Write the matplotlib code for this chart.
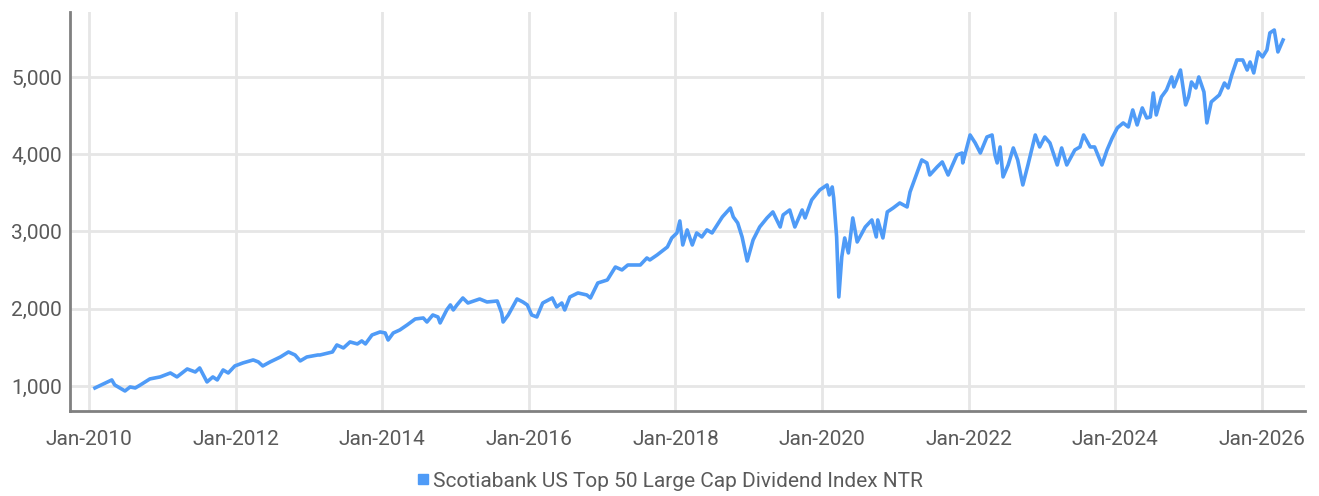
import matplotlib
matplotlib.use('Agg')
import matplotlib.pyplot as plt
import matplotlib.dates as mdates
import matplotlib.ticker as mticker
from matplotlib.lines import Line2D
import pandas as pd

# index level (decimal year, value)
years = [
    2010.08, 2010.31, 2010.35, 2010.49, 2010.56, 2010.63, 2010.70, 2010.83, 2010.97,
    2011.11, 2011.20, 2011.34, 2011.45, 2011.51, 2011.61, 2011.69, 2011.75, 2011.83, 2011.90, 2011.99,
    2012.10, 2012.24, 2012.31, 2012.37, 2012.47, 2012.61, 2012.72, 2012.81, 2012.88, 2012.97,
    2013.12, 2013.15, 2013.32, 2013.38, 2013.47, 2013.56, 2013.66, 2013.72, 2013.77, 2013.86, 2013.97,
    2014.04, 2014.08, 2014.15, 2014.24, 2014.34, 2014.45, 2014.56, 2014.61, 2014.69, 2014.76, 2014.79,
    2014.88, 2014.93, 2014.97,
    2015.02, 2015.10, 2015.17, 2015.33, 2015.43, 2015.57, 2015.63, 2015.65, 2015.72, 2015.84, 2015.92, 2015.98,
    2016.04, 2016.11, 2016.19, 2016.32, 2016.38, 2016.45, 2016.49, 2016.56, 2016.67, 2016.79, 2016.84, 2016.94,
    2017.07, 2017.18, 2017.27, 2017.35, 2017.45, 2017.52, 2017.61, 2017.65, 2017.75, 2017.89, 2017.95,
    2018.02, 2018.06, 2018.10, 2018.16, 2018.23, 2018.29, 2018.36, 2018.43, 2018.50, 2018.57, 2018.64,
    2018.75, 2018.79, 2018.85, 2018.91, 2018.98,
    2019.06, 2019.15, 2019.25, 2019.33, 2019.43, 2019.47, 2019.56, 2019.63, 2019.73, 2019.77, 2019.86, 2019.97,
    2020.07, 2020.10, 2020.14, 2020.16, 2020.20, 2020.23, 2020.27, 2020.31, 2020.36, 2020.42, 2020.48,
    2020.59, 2020.68, 2020.74, 2020.76, 2020.83, 2020.89, 2020.97,
    2021.06, 2021.16, 2021.20, 2021.27, 2021.36, 2021.43, 2021.47, 2021.57, 2021.64, 2021.72, 2021.84,
    2021.91, 2021.92,
    2022.02, 2022.09, 2022.16, 2022.25, 2022.32, 2022.36, 2022.39, 2022.43, 2022.47, 2022.54, 2022.61,
    2022.67, 2022.74, 2022.81, 2022.91, 2022.97,
    2023.04, 2023.11, 2023.21, 2023.27, 2023.34, 2023.45, 2023.52, 2023.57, 2023.66, 2023.72, 2023.82,
    2023.89, 2023.96,
    2024.03, 2024.11, 2024.18, 2024.24, 2024.30, 2024.37, 2024.43, 2024.48, 2024.52, 2024.56, 2024.63,
    2024.70, 2024.77, 2024.80, 2024.89, 2024.96,
    2025.00, 2025.04, 2025.10, 2025.14, 2025.21, 2025.25, 2025.31, 2025.42, 2025.49, 2025.54, 2025.59,
    2025.66, 2025.74, 2025.80, 2025.84, 2025.89, 2025.95,
    2026.01, 2026.07, 2026.11, 2026.17, 2026.22, 2026.29,
]
values = [
    974, 1078, 1013, 935, 987, 974, 1013, 1091, 1117,
    1168, 1117, 1220, 1181, 1233, 1052, 1117, 1078, 1207, 1168, 1259,
    1298, 1337, 1311, 1259, 1311, 1375, 1440, 1401, 1324, 1375,
    1401, 1401, 1440, 1531, 1492, 1570, 1544, 1583, 1544, 1660, 1699,
    1686, 1595, 1686, 1725, 1790, 1867, 1880, 1828, 1919, 1893, 1816,
    1984, 2049, 1984,
    2049, 2139, 2074, 2126, 2087, 2100, 1945, 1828, 1919, 2126, 2087, 2049,
    1919, 1893, 2074, 2139, 2023, 2074, 1984, 2152, 2204, 2178, 2139, 2333,
    2372, 2540, 2502, 2566, 2566, 2566, 2657, 2631, 2696, 2799, 2916,
    2981, 3136, 2825, 3020, 2825, 2981, 2929, 3020, 2981, 3084, 3188,
    3304, 3188, 3110, 2929, 2618,
    2890, 3058, 3175, 3253, 3058, 3214, 3278, 3058, 3278, 3175, 3408, 3537,
    3602, 3473, 3576, 3434, 2929, 2152, 2670, 2916, 2722, 3175, 2864,
    3058, 3149, 2929, 3149, 2916, 3253, 3304,
    3369, 3317, 3511, 3693, 3926, 3887, 3731, 3835, 3900, 3731, 3990,
    4016, 3887,
    4249, 4146, 4016, 4223, 4249, 3990, 3887, 4094, 3706, 3861, 4081,
    3926, 3602, 3861, 4249, 4094,
    4223, 4146, 3861, 4081, 3861, 4055, 4094, 4249, 4094, 4094, 3861,
    4055, 4210,
    4340, 4405, 4353, 4573, 4379, 4599, 4469, 4482, 4793, 4508, 4741,
    4832, 5000, 4871, 5090, 4638,
    4741, 4935, 4858, 5000, 4806, 4405, 4677, 4767, 4922, 4858, 5026,
    5220, 5220, 5090, 5194, 5052, 5324,
    5259, 5350, 5570, 5608, 5324, 5479,
]
series_name = 'Scotiabank US Top 50 Large Cap Dividend Index NTR'
y_ticks = [1000, 2000, 3000, 4000, 5000]
x_tick_years = list(range(2010, 2027, 2))


def year_to_date(y):
    yr = int(y)
    start = pd.Timestamp(year=yr, month=1, day=1)
    end = pd.Timestamp(year=yr + 1, month=1, day=1)
    return start + (end - start) * (y - yr)


dates = [year_to_date(y) for y in years]

plt.rcParams['font.family'] = ['Roboto', 'DejaVu Sans']
line_color = '#4f9bf7'
text_color = '#5a5a5a'

fig = plt.figure(figsize=(13.19, 4.96), dpi=100)
ax = fig.add_axes([0.0531, 0.1714, 0.9363, 0.8044])

ax.plot(dates, values, color=line_color, linewidth=2.6, solid_joinstyle='round')

ax.set_xlim(year_to_date(2009.74), year_to_date(2026.59))
ax.set_ylim(676, 5841)
ax.set_yticks(y_ticks)
ax.yaxis.set_major_formatter(mticker.FuncFormatter(lambda v, p: f'{int(v):,}'))
ax.set_xticks([pd.Timestamp(year=y, month=1, day=1) for y in x_tick_years])
ax.xaxis.set_major_formatter(mdates.DateFormatter('%b-%Y'))

ax.grid(True, color='#e6e6e6', linewidth=2)
ax.set_axisbelow(True)
for s in ['top', 'right']:
    ax.spines[s].set_visible(False)
for s in ['left', 'bottom']:
    ax.spines[s].set_color('#808080')
    ax.spines[s].set_linewidth(2)
ax.tick_params(axis='both', length=0, labelsize=15, labelcolor=text_color)
ax.tick_params(axis='x', pad=14)
ax.tick_params(axis='y', pad=6)

handle = Line2D([], [], marker='s', color='none', markerfacecolor=line_color,
                markeredgecolor=line_color, markersize=7)
fig.legend([handle], [series_name], loc='center', bbox_to_anchor=(0.507, 0.03),
           frameon=False, fontsize=15, labelcolor=text_color,
           handletextpad=0.1, handlelength=0.8)

fig.savefig('out.png', dpi=100)
